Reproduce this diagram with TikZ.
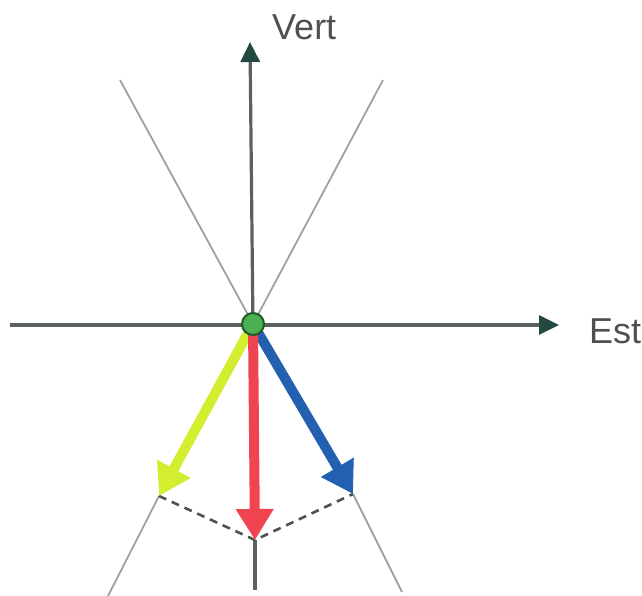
\documentclass[tikz,border=0pt]{standalone}
\usepackage{fontspec}
\setmainfont{Liberation Sans}
\usetikzlibrary{arrows.meta}
\definecolor{axisgray}{HTML}{5A615E}
\definecolor{headgreen}{HTML}{234A40}
\definecolor{thingray}{HTML}{A0A0A0}
\definecolor{dashgray}{HTML}{505050}
\definecolor{yel}{HTML}{D2EE2E}
\definecolor{redv}{HTML}{F04450}
\definecolor{bluev}{HTML}{2460B0}
\definecolor{dotgreen}{HTML}{4CB050}
\definecolor{dotedge}{HTML}{1E5A2A}
\definecolor{txtgray}{HTML}{505050}
\tikzset{
  axis/.style={draw=axisgray, line width=3.2pt, -{Triangle[length=20pt,width=19pt,fill=headgreen,color=headgreen]}},
  guide/.style={draw=thingray, line width=1.8pt},
  vec/.style={line width=10pt, -{Triangle[length=31pt,width=36pt]}},
  proj/.style={draw=dashgray, line width=2.6pt, dash pattern=on 8pt off 6pt},
  lbl/.style={text=txtgray, font=\fontsize{36}{40}\selectfont, inner sep=0pt}
}
\begin{document}
\begin{tikzpicture}[x=1pt,y=-1pt]
\useasboundingbox (0,0) rectangle (642,596);
\coordinate (O) at (253,324);
\coordinate (UL) at (120,80);
\coordinate (UR) at (383,80);
\coordinate (Ytip) at (159,496);
\coordinate (Rtip) at (255,540);
\coordinate (Btip) at (353,494);
\coordinate (LL) at (108,596);
\coordinate (LR) at (402,592);
\coordinate (Bot) at (255,590);
\coordinate (Wst) at (10,325);
\coordinate (Eax) at (559,325);
\coordinate (Nax) at (250,42);
% guide lines
\draw[guide] (UL) -- (O);
\draw[guide] (UR) -- (O);
\draw[guide] (Ytip) -- (LL);
\draw[guide] (Btip) -- (LR);
\draw[draw=axisgray, line width=3.2pt] (Rtip) -- (Bot);
% axes
\draw[axis] (Wst) -- (Eax);
\draw[axis] (253,330) -- (Nax);
% dashed
\draw[proj] (Ytip) -- (Rtip) -- (Btip);
% vectors
\draw[vec, draw=yel, fill=yel] (O) -- (Ytip);
\draw[vec, draw=bluev, fill=bluev] (O) -- (Btip);
\draw[vec, draw=redv, fill=redv] (O) -- (Rtip);
% origin dot
\node[circle, fill=dotgreen, draw=dotedge, line width=2pt, minimum size=22pt, inner sep=0pt] (dot) at (O) {};
% labels
\node[lbl, anchor=base west] (vert) at (272,40) {Vert};
\node[lbl, anchor=base west] (est) at (589,343) {Est};
\end{tikzpicture}
\end{document}
